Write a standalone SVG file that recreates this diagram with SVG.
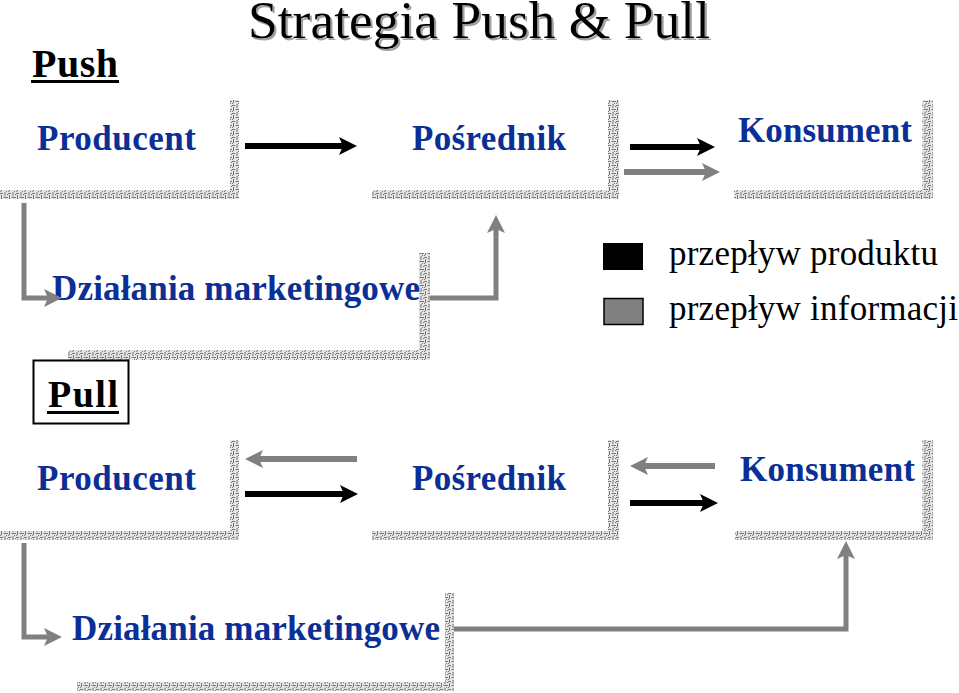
<svg xmlns="http://www.w3.org/2000/svg" width="959" height="693" viewBox="0 0 959 693">
<style>
.lbl{font-family:"Liberation Serif","Times New Roman",serif;font-weight:bold;font-size:35px;fill:#0a2f96}
.hdr{font-family:"Liberation Serif","Times New Roman",serif;font-weight:bold;fill:#000}
.leg{font-family:"Liberation Serif","Times New Roman",serif;font-size:35px;fill:#000}
.band{fill:url(#maze)}
.pb{stroke:#000;stroke-width:6;fill:none}
.pg{stroke:#808080;stroke-width:6;fill:none}
.cg{stroke:#808080;stroke-width:5;fill:none;stroke-linejoin:miter}
</style>
<defs>
<pattern id="maze" width="8" height="8" patternUnits="userSpaceOnUse">
<rect width="8" height="8" fill="#e4e4e4"/>
<path d="M0 1.5H3M5 0V4M1.5 3V7M3.5 5.5H8M6.5 7V8M0 7.5H1M7 2.5H8" stroke="#777" stroke-width="1" fill="none"/>
</pattern>
<filter id="shadow" x="-5%" y="-20%" width="110%" height="140%">
<feOffset in="SourceAlpha" dx="2" dy="2" result="o"/>
<feFlood flood-color="#a0a0a0"/>
<feComposite in2="o" operator="in" result="s"/>
<feMerge><feMergeNode in="s"/><feMergeNode in="SourceGraphic"/></feMerge>
</filter>
<marker id="hb" markerUnits="userSpaceOnUse" viewBox="0 0 18 18" markerWidth="18" markerHeight="18" refX="4" refY="9" orient="auto">
<path d="M0 0L18 9L0 18L4 9Z" fill="#000"/>
</marker>
<marker id="hg" markerUnits="userSpaceOnUse" viewBox="0 0 18 18" markerWidth="18" markerHeight="18" refX="4" refY="9" orient="auto">
<path d="M0 0L18 9L0 18L4 9Z" fill="#808080"/>
</marker>
</defs>
<rect width="959" height="693" fill="#fff"/>

<g id="title">
<text x="248" y="38" font-family="Liberation Serif,Times New Roman,serif" font-size="52" fill="#000" textLength="462" lengthAdjust="spacingAndGlyphs" filter="url(#shadow)">Strategia Push &amp; Pull</text>
</g>

<g id="push-label">
<text class="hdr" x="32" y="77" font-size="40" textLength="86">Push</text>
<rect x="31" y="80" width="88" height="3" fill="#000"/>
</g>

<g id="top-producent">
<rect class="band" x="230" y="100" width="9" height="99"/>
<rect class="band" x="0" y="190" width="239" height="9"/>
<text class="lbl" x="37" y="150" textLength="159">Producent</text>
</g>
<g id="top-posrednik">
<rect class="band" x="608" y="100" width="11" height="99"/>
<rect class="band" x="372" y="190" width="247" height="9"/>
<text class="lbl" x="412" y="150" textLength="154">Pośrednik</text>
</g>
<g id="top-konsument">
<rect class="band" x="922" y="100" width="11" height="99"/>
<rect class="band" x="734" y="190" width="199" height="9"/>
<text class="lbl" x="738" y="142" textLength="174">Konsument</text>
</g>
<g id="top-dzialania">
<rect class="band" x="419" y="253" width="11" height="107"/>
<rect class="band" x="68" y="350" width="362" height="10"/>
<text class="lbl" x="52" y="300" textLength="368">Działania marketingowe</text>
</g>

<g id="legend">
<rect x="603" y="243" width="40" height="27" fill="#000"/>
<rect x="604" y="298.5" width="39" height="26" fill="#808080" stroke="#000" stroke-width="1.5"/>
<text class="leg" x="669" y="265" textLength="269">przepływ produktu</text>
<text class="leg" x="669" y="320" textLength="289">przepływ informacji</text>
</g>

<g id="pull-label">
<rect x="33.5" y="360.5" width="95" height="63" fill="#fff" stroke="#000" stroke-width="2"/>
<text class="hdr" x="48" y="407" font-size="38" textLength="70">Pull</text>
<rect x="47" y="411" width="72" height="3" fill="#000"/>
</g>

<g id="bot-producent">
<rect class="band" x="230" y="440" width="9" height="100"/>
<rect class="band" x="0" y="531" width="239" height="9"/>
<text class="lbl" x="37" y="490" textLength="159">Producent</text>
</g>
<g id="bot-posrednik">
<rect class="band" x="608" y="440" width="11" height="100"/>
<rect class="band" x="372" y="531" width="247" height="9"/>
<text class="lbl" x="412" y="490" textLength="154">Pośrednik</text>
</g>
<g id="bot-konsument">
<rect class="band" x="922" y="440" width="11" height="100"/>
<rect class="band" x="735" y="531" width="198" height="9"/>
<text class="lbl" x="740" y="481" textLength="175">Konsument</text>
</g>
<g id="bot-dzialania">
<rect class="band" x="445" y="593" width="9" height="97"/>
<rect class="band" x="77" y="682" width="377" height="9"/>
<text class="lbl" x="72" y="640" textLength="368">Działania marketingowe</text>
</g>

<g id="connectors">
<line class="pb" x1="245" y1="146" x2="343" y2="146" marker-end="url(#hb)"/>
<line class="pb" x1="630" y1="147" x2="701" y2="147" marker-end="url(#hb)"/>
<line class="pg" x1="624" y1="172" x2="706" y2="172" marker-end="url(#hg)"/>
<polyline class="cg" points="24,203 24,298 48,298" marker-end="url(#hg)"/>
<polyline class="cg" points="430,298 496,298 496,229" marker-end="url(#hg)"/>
<line class="pg" x1="357" y1="459" x2="259" y2="459" marker-end="url(#hg)"/>
<line class="pb" x1="245" y1="494" x2="344" y2="494" marker-end="url(#hb)"/>
<line class="pg" x1="715" y1="466" x2="644" y2="466" marker-end="url(#hg)"/>
<line class="pb" x1="630" y1="503" x2="704" y2="503" marker-end="url(#hb)"/>
<polyline class="cg" points="24,543 24,637 48,637" marker-end="url(#hg)"/>
<polyline class="cg" points="454,629 846,629 846,555" marker-end="url(#hg)"/>
</g>
</svg>
